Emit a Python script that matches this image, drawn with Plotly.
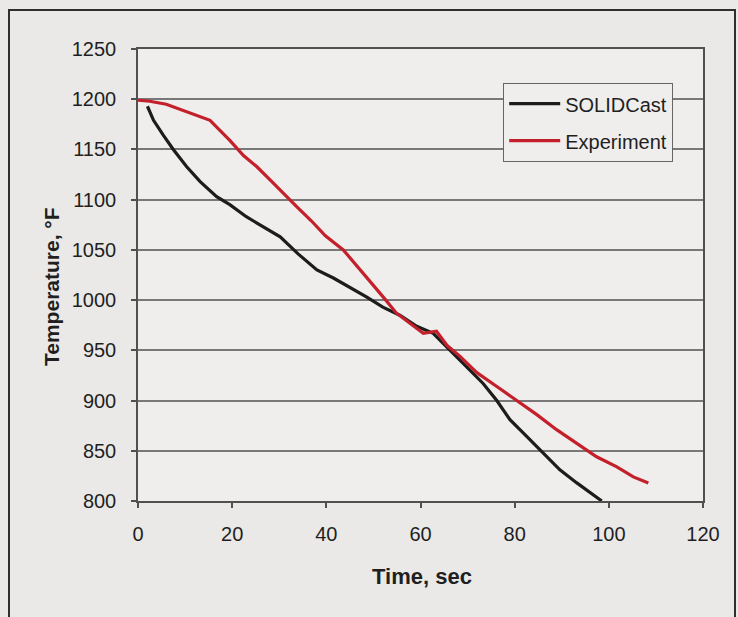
import plotly.graph_objects as go

# Cooling curves: simulated (SOLIDCast) vs measured (Experiment)
solid_time = [2, 3.3, 5.4, 7.5, 10.3, 13.2, 16.7, 19.5, 23, 26.6, 30.2, 34, 38,
              41.5, 45, 48.6, 52, 55.6, 59.2, 62.7, 66.3, 69.8, 73.3, 76.2, 79,
              82.6, 86.1, 89.6, 93.2, 96, 98.5]
solid_temp = [1193, 1179, 1164, 1150, 1133, 1118, 1103, 1095, 1083, 1073, 1063,
              1046, 1030, 1022, 1013, 1003, 993, 985, 974, 967, 950, 934, 917,
              900, 881, 864, 848, 831, 818, 808, 800]

exp_time = [0, 2.5, 6, 9.6, 12.5, 15.3, 17.4, 19.5, 22.4, 25.2, 28, 30.9, 33.7,
            36.8, 39.8, 43.6, 48.6, 52.1, 54.9, 57.8, 60.6, 63.4, 65.6, 68.4,
            71.9, 76.2, 80.4, 84.7, 88.9, 93.2, 97.4, 101.7, 105.2, 108.4]
exp_temp = [1199, 1198, 1195, 1189, 1184, 1179, 1169, 1159, 1144, 1133, 1120,
            1106, 1093, 1079, 1064, 1050, 1023, 1003, 987, 977, 967, 969, 955,
            944, 928, 914, 900, 886, 871, 857, 844, 834, 824, 818]

x_ticks = [0, 20, 40, 60, 80, 100, 120]
y_ticks = [800, 850, 900, 950, 1000, 1050, 1100, 1150, 1200, 1250]

x_title = "Time, sec"
y_title = "Temperature, °F"

W, H = 738, 617
L, R, T, B = 138, 35, 49, 116
FONT = "Liberation Sans, Arial, sans-serif"
INK = "#1f1f1f"

fig = go.Figure()
fig.add_trace(go.Scatter(x=solid_time, y=solid_temp, mode="lines", name="SOLIDCast",
                         legendgroup="a",
                         line=dict(color="#1c1c1c", width=3.2)))
fig.add_trace(go.Scatter(x=exp_time, y=exp_temp, mode="lines", name="Experiment",
                         legendgroup="b",
                         line=dict(color="#c4202b", width=3.2)))

axis_common = dict(showline=True, linecolor="#505050", linewidth=1.5, mirror=True,
                   ticks="outside", ticklen=5, tickcolor="#505050", tickwidth=1.5,
                   tickfont=dict(family=FONT, size=20, color=INK), zeroline=False)

fig.update_xaxes(range=[0, 120], tickvals=x_ticks, showgrid=False,
                 ticklabelstandoff=9, **axis_common)
fig.update_yaxes(range=[800, 1250], tickvals=y_ticks, showgrid=True,
                 gridcolor="#787878", gridwidth=1.5, ticklabelstandoff=11,
                 **axis_common)

pw, ph = W - L - R, H - T - B


def px_to_paper(px, py):
    return (px - L) / pw, (H - B - py) / ph


# Axis titles
tx, ty = px_to_paper(422, 576)
fig.add_annotation(text=f"<b>{x_title}</b>", xref="paper", yref="paper", x=tx, y=ty,
                   xanchor="center", yanchor="middle", showarrow=False,
                   font=dict(family=FONT, size=22, color=INK))
ax_, ay_ = px_to_paper(51, 287)
fig.add_annotation(text=f"<b>{y_title}</b>", xref="paper", yref="paper", x=ax_, y=ay_,
                   xanchor="center", yanchor="middle", showarrow=False, textangle=-90,
                   font=dict(family=FONT, size=21, color=INK))

# Outer chart frame
x0, y0 = px_to_paper(9, 10)
x1, y1 = px_to_paper(735, 640)
fig.add_shape(type="rect", xref="paper", yref="paper", x0=x0, y0=y1, x1=x1, y1=y0,
              line=dict(color="#2f2f2f", width=2), layer="below")

lx, ly = px_to_paper(503, 83)
fig.update_layout(
    width=W, height=H,
    margin=dict(l=L, r=R, t=T, b=B, autoexpand=False),
    paper_bgcolor="#eae9e7",
    plot_bgcolor="#efeeec",
    font=dict(family=FONT, color=INK),
    showlegend=True,
    legend=dict(x=lx, y=ly, xanchor="left", yanchor="top",
                bgcolor="#efeeec", bordercolor="#666666", borderwidth=1.2,
                font=dict(family=FONT, size=20, color=INK),
                tracegroupgap=8, itemwidth=51),
)

fig.write_html("out.html")
